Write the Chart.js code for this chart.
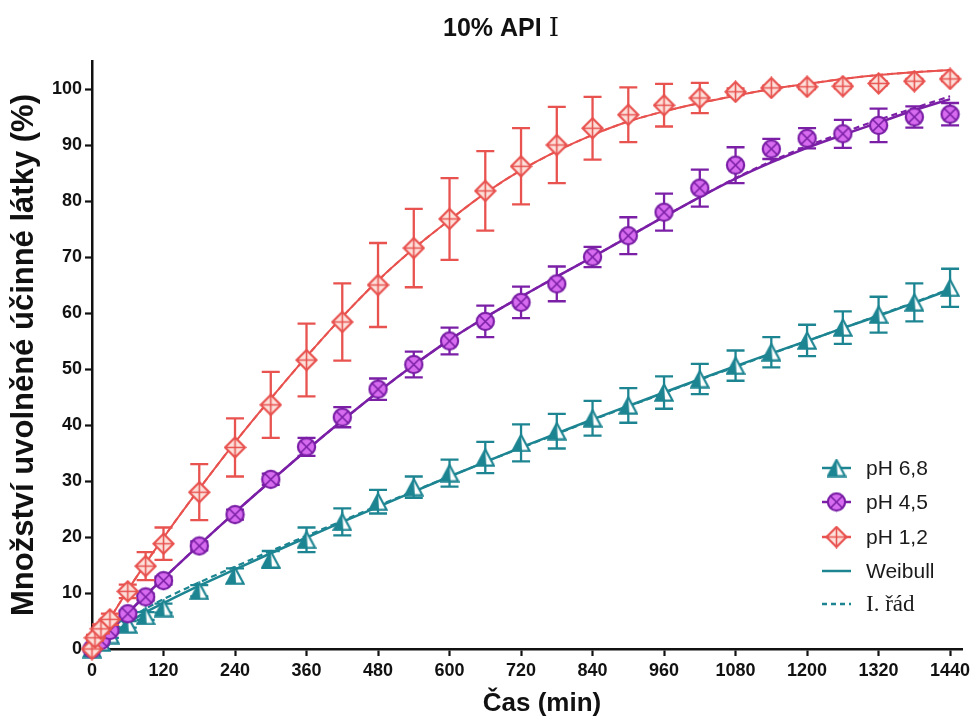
<!DOCTYPE html>
<html><head><meta charset="utf-8">
<script src="https://cdn.jsdelivr.net/npm/chart.js@4.4.1/dist/chart.umd.min.js"></script>
<style>html,body{margin:0;padding:0;background:#fff}#wrap{width:979px;height:722px;position:relative}</style>
</head><body><div id="wrap"><canvas id="c" width="979" height="722"></canvas></div>
<script>
// ---------- text ----------
const chartTitleMain = '10% API ';
const chartTitleNumeral = 'Ⅰ';
const xAxisTitle = 'Čas (min)';
const yAxisTitle = 'Množství uvolněné účinné látky (%)';
const seriesNames = ['pH 6,8', 'pH 4,5', 'pH 1,2'];
const fitNames = ['Weibull', 'I. řád'];

// ---------- ticks ----------
const xTickValues = [0,120,240,360,480,600,720,840,960,1080,1200,1320,1440];
const yTickValues = [0,10,20,30,40,50,60,70,80,90,100];

// ---------- measured data (time in min, released %) ----------
const times = [0,5,15,30,60,90,120,180,240,300,360,420,480,540,600,660,720,780,840,900,960,1020,1080,1140,1200,1260,1320,1380,1440];

const ph68 = [0,null,1.2,2.5,4.4,5.9,7.3,10.4,13.1,16.0,19.5,22.7,26.3,28.9,31.4,34.2,36.8,38.9,41.2,43.5,45.8,48.2,50.6,53.0,55.1,57.4,59.7,61.9,64.5];
const ph68Err = [0,null,0.4,0.5,0.6,0.7,0.8,1.0,1.3,1.5,2.2,2.4,2.1,1.9,2.4,2.8,3.3,3.1,3.1,3.1,2.9,2.7,2.7,2.7,2.8,2.9,3.2,3.4,3.4];

const ph45 = [0,null,1.5,3.3,6.3,9.3,12.2,18.4,24.0,30.3,36.1,41.4,46.4,50.8,55.0,58.5,61.9,65.2,70.0,73.8,78.0,82.3,86.4,89.3,91.2,92.0,93.5,95.0,95.5];
const ph45Err = [0,null,0.3,0.4,0.5,0.6,0.7,0.8,0.9,1.0,1.6,1.8,1.9,2.3,2.4,2.8,2.8,3.1,1.8,3.3,3.3,3.3,3.2,1.8,1.8,2.5,3.0,1.9,2.0];

const ph12 = [0,2.0,3.6,5.3,10.3,14.8,18.8,28.0,36.0,43.6,51.6,58.4,65.0,71.6,76.8,81.8,86.2,90.0,93.0,95.4,97.1,98.4,99.5,100.2,100.4,100.5,101.0,101.4,101.8];
const ph12Err = [0,0.5,0.8,1.0,1.2,2.5,2.9,5.0,5.2,5.9,6.5,6.9,7.5,7.0,7.3,7.1,6.8,6.8,5.6,4.9,3.8,2.7,0.6,0.4,0.4,0.4,0.4,0.4,0.4];

// ---------- fitted curves ----------
const fitTimes = [0,15,30,60,90,120,180,240,300,360,420,480,540,600,660,720,780,840,900,960,1020,1080,1140,1200,1260,1320,1380,1440];

const ph68Weibull = [0,1.2,2.4,4.6,6.6,8.2,11.3,14.2,17.1,19.9,22.7,25.4,28.1,30.8,33.4,36.0,38.5,41.0,43.4,45.8,48.2,50.5,52.8,55.0,57.3,59.5,61.8,64.2];
const ph68First   = [0,1.4,2.8,5.3,7.2,8.9,11.9,14.7,17.5,20.2,22.9,25.6,28.2,30.8,33.4,35.9,38.4,40.9,43.3,45.7,48.1,50.4,52.7,55.0,57.3,59.6,61.9,64.3];

const ph45Weibull = [0,1.5,3.1,6.4,9.6,12.6,18.6,24.4,30.0,35.5,40.8,45.9,50.7,55.2,59.2,62.9,66.5,70.0,73.6,77.2,80.7,84.0,86.9,89.5,91.8,94.0,96.2,98.2];
const ph45First   = [0,1.5,3.1,6.4,9.6,12.6,18.6,24.4,30.0,35.5,40.8,45.9,50.7,55.2,59.2,62.9,66.5,70.0,73.6,77.2,80.7,84.1,87.1,89.8,92.2,94.5,96.6,98.7];

const ph12Weibull = [0,2.8,5.4,10.5,15.3,19.9,28.6,36.9,44.7,52.2,59.3,65.8,71.5,76.6,81.4,85.5,88.9,91.8,94.2,96.0,97.5,98.8,100.0,100.9,101.8,102.5,103.0,103.4];
const ph12First   = [0,2.8,5.4,10.5,15.3,19.9,28.6,36.9,44.7,52.2,59.3,65.8,71.5,76.6,81.4,85.5,88.9,91.8,94.2,96.0,97.5,98.8,100.0,100.9,101.8,102.5,103.0,103.4];

// ---------- styles ----------
const TEAL = '#1d8592';
const PURPLE = '#7a1fa6';
const PURPLE_FILL = '#d86cf0';
const RED = '#e8524f';
const RED_FILL = '#fde2dc';
const FONT = '"Liberation Sans", Arial, Helvetica, sans-serif';
const SERIF = '"Liberation Serif", "Times New Roman", "DejaVu Serif", serif';
const NUM_SERIF = '"DejaVu Serif", "Liberation Serif", serif';

function mk(w, h, draw) {
  const c = document.createElement('canvas');
  c.width = w; c.height = h;
  draw(c.getContext('2d'));
  return c;
}
const triImg = mk(20, 19, ctx => {
  ctx.lineJoin = 'miter';
  ctx.beginPath(); ctx.moveTo(10, 1.6); ctx.lineTo(18.6, 17.6); ctx.lineTo(1.4, 17.6); ctx.closePath();
  ctx.fillStyle = '#ffffff'; ctx.fill();
  ctx.beginPath(); ctx.moveTo(10, 1.6); ctx.lineTo(11, 17.6); ctx.lineTo(1.4, 17.6); ctx.closePath();
  ctx.fillStyle = TEAL; ctx.fill();
  ctx.beginPath(); ctx.moveTo(10, 1.6); ctx.lineTo(18.6, 17.6); ctx.lineTo(1.4, 17.6); ctx.closePath();
  ctx.strokeStyle = TEAL; ctx.lineWidth = 2.2; ctx.stroke();
});
const circImg = mk(21, 21, ctx => {
  ctx.beginPath(); ctx.arc(10.5, 10.5, 8.6, 0, Math.PI * 2);
  ctx.fillStyle = PURPLE_FILL; ctx.fill();
  ctx.strokeStyle = PURPLE; ctx.lineWidth = 2.2; ctx.stroke();
  const d = 6.0;
  ctx.beginPath();
  ctx.moveTo(10.5 - d, 10.5 - d); ctx.lineTo(10.5 + d, 10.5 + d);
  ctx.moveTo(10.5 + d, 10.5 - d); ctx.lineTo(10.5 - d, 10.5 + d);
  ctx.lineWidth = 1.6; ctx.stroke();
});
const diaImg = mk(23, 23, ctx => {
  ctx.beginPath(); ctx.moveTo(11.5, 1.5); ctx.lineTo(21.5, 11.5); ctx.lineTo(11.5, 21.5); ctx.lineTo(1.5, 11.5); ctx.closePath();
  ctx.fillStyle = RED_FILL; ctx.fill();
  ctx.strokeStyle = RED; ctx.lineWidth = 2.2; ctx.stroke();
  ctx.beginPath(); ctx.moveTo(11.5, 2); ctx.lineTo(11.5, 21); ctx.moveTo(2, 11.5); ctx.lineTo(21, 11.5);
  ctx.lineWidth = 1.6; ctx.stroke();
});

const pts = (xs, ys) => xs.map((x, i) => ({ x: x, y: ys[i] })).filter(p => p.y !== null);
const errs = (ys, es) => es.filter((e, i) => ys[i] !== null);

function pointSet(label, ys, es, img, color, order) {
  return {
    type: 'scatter', label: label, data: pts(times, ys), errors: errs(ys, es), errColor: color,
    pointStyle: img, pointRadius: 9, pointHoverRadius: 9, showLine: false, clip: false, order: order
  };
}
function fitSet(label, ys, color, dashed, width, order) {
  return {
    type: 'line', label: label, data: pts(fitTimes, ys), borderColor: color, borderWidth: width,
    borderDash: dashed ? [6, 4] : [], pointRadius: 0, cubicInterpolationMode: 'monotone',
    fill: false, clip: false, order: order
  };
}

const datasets = [
  pointSet(seriesNames[2], ph12, ph12Err, diaImg, RED, 0),
  pointSet(seriesNames[1], ph45, ph45Err, circImg, PURPLE, 1),
  pointSet(seriesNames[0], ph68, ph68Err, triImg, TEAL, 2),
  fitSet(fitNames[1] + ' ' + seriesNames[2], ph12First, RED, true, 2, 3),
  fitSet(fitNames[0] + ' ' + seriesNames[2], ph12Weibull, RED, false, 2, 4),
  fitSet(fitNames[1] + ' ' + seriesNames[1], ph45First, PURPLE, true, 2.2, 5),
  fitSet(fitNames[0] + ' ' + seriesNames[1], ph45Weibull, PURPLE, false, 2.5, 6),
  fitSet(fitNames[1] + ' ' + seriesNames[0], ph68First, TEAL, true, 2.2, 7),
  fitSet(fitNames[0] + ' ' + seriesNames[0], ph68Weibull, TEAL, false, 2.5, 8)
];

const errorBars = {
  id: 'errorBars',
  beforeDatasetDraw(chart, args) {
    const ds = chart.data.datasets[args.index];
    if (!ds.errors) return;
    const xs = chart.scales.x, ys = chart.scales.y, ctx = chart.ctx;
    ctx.save();
    ctx.strokeStyle = ds.errColor; ctx.lineWidth = 2.3; ctx.lineCap = 'butt';
    ds.data.forEach((p, i) => {
      const e = ds.errors[i];
      if (!e) return;
      const px = xs.getPixelForValue(p.x);
      const t = ys.getPixelForValue(p.y + e), b = ys.getPixelForValue(p.y - e);
      ctx.beginPath();
      ctx.moveTo(px, t); ctx.lineTo(px, b);
      ctx.moveTo(px - 9, t); ctx.lineTo(px + 9, t);
      ctx.moveTo(px - 9, b); ctx.lineTo(px + 9, b);
      ctx.stroke();
    });
    ctx.restore();
  }
};

const textPlugin = {
  id: 'titles',
  afterDraw(chart) {
    const ctx = chart.ctx;
    ctx.save();
    ctx.textBaseline = 'middle';
    ctx.fillStyle = '#111';
    // chart title (mixed fonts)
    const f1 = 'bold 25px ' + FONT, f2 = '26px ' + NUM_SERIF;
    ctx.font = f1; const w1 = ctx.measureText(chartTitleMain).width;
    ctx.font = f2; const w2 = ctx.measureText(chartTitleNumeral).width;
    const x0 = 501 - (w1 + w2) / 2, y = 29;
    ctx.font = f1; ctx.textAlign = 'left'; ctx.fillText(chartTitleMain, x0, y);
    ctx.font = f2; ctx.fillText(chartTitleNumeral, x0 + w1, y);
    // x axis title
    ctx.font = 'bold 26px ' + FONT; ctx.textAlign = 'center';
    ctx.fillText(xAxisTitle, 542, 704);
    ctx.restore();
  }
};

const legendPlugin = {
  id: 'insideLegend',
  afterDraw(chart) {
    const ctx = chart.ctx;
    const rows = [
      { img: triImg, color: TEAL, text: seriesNames[0], font: '21px ' + FONT },
      { img: circImg, color: PURPLE, text: seriesNames[1], font: '21px ' + FONT },
      { img: diaImg, color: RED, text: seriesNames[2], font: '21px ' + FONT },
      { img: null, color: TEAL, dash: [], text: fitNames[0], font: '21px ' + FONT },
      { img: null, color: TEAL, dash: [5, 4], text: fitNames[1], font: '23px ' + SERIF }
    ];
    const ys = [468, 502, 537, 571, 604];
    ctx.save();
    rows.forEach((r, i) => {
      const y = ys[i];
      ctx.strokeStyle = r.color; ctx.lineWidth = 2.5;
      ctx.setLineDash(r.dash || []);
      ctx.beginPath(); ctx.moveTo(822, y); ctx.lineTo(851, y); ctx.stroke();
      ctx.setLineDash([]);
      if (r.img) ctx.drawImage(r.img, 836.5 - r.img.width / 2, y - r.img.height / 2);
      ctx.fillStyle = '#1a1a1a'; ctx.font = r.font; ctx.textBaseline = 'middle'; ctx.textAlign = 'left';
      ctx.fillText(r.text, 866, y + 1);
    });
    ctx.restore();
  }
};

new Chart(document.getElementById('c'), {
  data: { datasets: datasets },
  plugins: [errorBars, textPlugin, legendPlugin],
  options: {
    responsive: false, animation: false, devicePixelRatio: 1,
    layout: { padding: { top: 61, right: 17, bottom: 0, left: 0 } },
    plugins: { legend: { display: false }, title: { display: false }, tooltip: { enabled: false } },
    scales: {
      x: {
        type: 'linear', min: 0, max: 1460,
        afterFit: s => { s.height = 73; },
        afterBuildTicks: s => { s.ticks = xTickValues.map(v => ({ value: v })); },
        ticks: { font: { family: FONT, size: 18, weight: 'bold' }, color: '#111', padding: 4, maxRotation: 0, autoSkip: false,
                 callback: v => String(v) },
        grid: { display: true, drawOnChartArea: false, drawTicks: true, tickLength: 7, tickWidth: 2.2, tickColor: '#111' },
        border: { display: true, color: '#111', width: 2.5 },
        title: { display: false }
      },
      y: {
        type: 'linear', min: 0, max: 105,
        afterFit: s => { s.width = 92; },
        afterBuildTicks: s => { s.ticks = yTickValues.map(v => ({ value: v })); },
        ticks: { font: { family: FONT, size: 18, weight: 'bold' }, color: '#111', padding: 3, autoSkip: false,
                 callback: v => String(v) },
        grid: { display: true, drawOnChartArea: false, drawTicks: true, tickLength: 7, tickWidth: 2.2, tickColor: '#111' },
        border: { display: true, color: '#111', width: 2.5 },
        title: { display: true, text: yAxisTitle, font: { family: FONT, size: 31, weight: 'bold' }, color: '#111', padding: { top: 6, bottom: 0 } }
      }
    }
  }
});
</script>
</body></html>
